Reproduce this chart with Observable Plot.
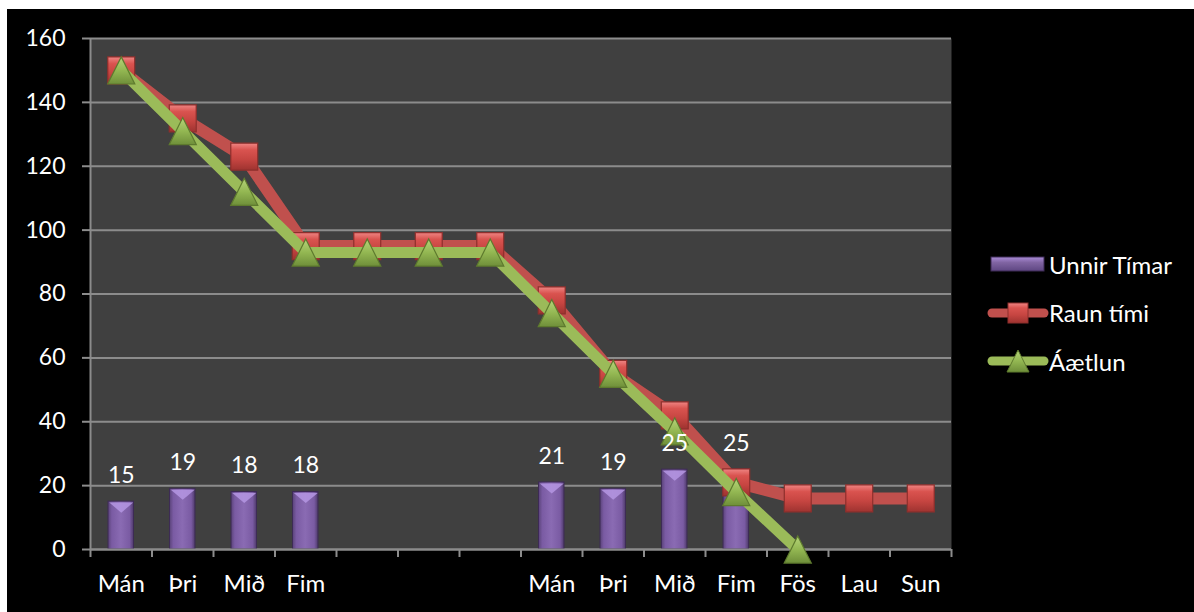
<!DOCTYPE html>
<html>
<head>
<meta charset="utf-8">
<script src="https://cdn.jsdelivr.net/npm/d3@7"></script>
<script src="https://cdn.jsdelivr.net/npm/@observablehq/plot@0.6"></script>
<style>
  html, body { margin: 0; padding: 0; background: #ffffff; }
  #wrap { position: absolute; left: 7px; top: 9px; width: 1187px; height: 603px; background: #000; overflow: hidden; }
  #wrap svg.chart { position: absolute; left: 0; top: 0; }
  .legend { position: absolute; left: 970px; top: 231px; font-family: Lato, "Open Sans", sans-serif; font-size: 24px; color: #fff; }
  .legend .item { display: flex; align-items: center; height: 48.5px; }
  .legend .item svg { margin-right: 0px; }
</style>
</head>
<body>
<div id="wrap"></div>
<script>
// Day labels along the bottom (two weeks, with an unlabeled gap)
const dayLabels = ["Mán", "Þri", "Mið", "Fim", "", "", "", "Mán", "Þri", "Mið", "Fim", "Fös", "Lau", "Sun"];

// Hours worked per day (null = no bar)
const unnirTimar = [15, 19, 18, 18, null, null, null, 21, 19, 25, 25, null, null, null];

// Actual remaining time
const raunTimi = [150, 135, 123, 95, 95, 95, 95, 78, 55, 42, 21, 16, 16, 16];

// Planned remaining time
const aaetlun = [150, 131, 112, 93, 93, 93, 93, 74, 55, 37, 18, 0, null, null];

const yTicks = [0, 20, 40, 60, 80, 100, 120, 140, 160];

const seriesNames = ["Unnir Tímar", "Raun tími", "Áætlun"];

const bars = unnirTimar.map((v, i) => ({i, v})).filter(d => d.v != null);
const raun = raunTimi.map((v, i) => ({i, v})).filter(d => d.v != null);
const plan = aaetlun.map((v, i) => ({i, v})).filter(d => d.v != null);

const gridColor = "#8c8c8c";
const font = "Lato, 'Open Sans', sans-serif";

// Triangle marker taller than an equilateral one, centred on its bounding box
const tallTriangle = {
  draw(context, size) {
    const w = Math.sqrt(size) * 1.5;
    const h = w;
    context.moveTo(0, -h / 2);
    context.lineTo(w / 2, h / 2);
    context.lineTo(-w / 2, h / 2);
    context.closePath();
  }
};

// Small inverted triangle used as the light cap on top of each bar
const barCap = {
  draw(context, size) {
    const w = Math.sqrt(size);
    context.moveTo(-w / 2, 0);
    context.lineTo(w / 2, 0);
    context.lineTo(0, w * 0.42);
    context.closePath();
  }
};

const chart = Plot.plot({
  width: 1187,
  height: 603,
  marginLeft: 83,
  marginRight: 243,
  marginTop: 29,
  marginBottom: 63,
  style: {background: "transparent", fontFamily: font, color: "#fff"},
  x: {type: "linear", domain: [0, dayLabels.length]},
  y: {domain: [0, 160]},
  marks: [
    Plot.frame({fill: "#404040", stroke: null}),
    Plot.ruleY(yTicks, {stroke: gridColor, strokeWidth: 2}),
    Plot.ruleX([0], {stroke: gridColor, strokeWidth: 2}),
    // hours worked
    Plot.rectY(bars, {
      x1: d => d.i, x2: d => d.i + 1, y1: 0, y2: "v",
      insetLeft: 18, insetRight: 18,
      fill: "url(#barGrad)", stroke: "#3d2b55", strokeWidth: 1
    }),
    Plot.dot(bars, {x: d => d.i + 0.5, y: "v", symbol: barCap, r: 13.5, fill: "#b596e3", fillOpacity: 0.85, dy: 1}),
    Plot.ruleY([0], {stroke: gridColor, strokeWidth: 2}),
    // actual
    Plot.line(raun, {x: d => d.i + 0.5, y: "v", stroke: "#c0504d", strokeWidth: 12, strokeLinejoin: "round", strokeLinecap: "butt"}),
    Plot.dot(raun, {x: d => d.i + 0.5, y: "v", symbol: "square", r: 15.2, fill: "url(#sqGrad)", stroke: "#8e2f2c", strokeWidth: 1.2}),
    // plan
    Plot.line(plan, {x: d => d.i + 0.5, y: "v", stroke: "#9bbb59", strokeWidth: 11, strokeLinejoin: "round", strokeLinecap: "butt"}),
    Plot.dot(plan, {x: d => d.i + 0.5, y: "v", symbol: tallTriangle, r: 10.2, fill: "url(#triGrad)", stroke: "#5e7a2e", strokeWidth: 1.2}),
    // value labels above bars
    Plot.text(bars, {x: d => d.i + 0.5, y: "v", text: d => String(d.v), dy: -26, fill: "#fff", fontSize: 23, fontFamily: font}),
    // axes
    Plot.axisY({ticks: yTicks, tickSize: 8, tickPadding: 17, stroke: gridColor, strokeWidth: 2, fill: "#fff", fontSize: 23, fontFamily: font, label: null}),
    Plot.axisX({ticks: d3.range(dayLabels.length + 1), tickSize: 8, stroke: gridColor, strokeWidth: 2, tickFormat: () => "", label: null}),
    Plot.axisX({ticks: d3.range(dayLabels.length).map(i => i + 0.5), tickSize: 0, tickPadding: 25, tickFormat: t => dayLabels[Math.floor(t)], fill: "#fff", fontSize: 24, fontFamily: font, label: null})
  ]
});
chart.classList.add("chart");

// gradients used by bars and markers
const defs = d3.select(chart).insert("defs", ":first-child");
const grad = (id, stops, horiz) => {
  const g = defs.append("linearGradient").attr("id", id)
    .attr("x1", 0).attr("y1", 0).attr("x2", horiz ? 1 : 0).attr("y2", horiz ? 0 : 1);
  stops.forEach(([o, c]) => g.append("stop").attr("offset", o).attr("stop-color", c));
};
grad("barGrad", [[0, "#5a4379"], [0.15, "#7a5ba3"], [0.5, "#8a6bb3"], [0.85, "#7a5ba3"], [1, "#4e3a6a"]], true);
grad("sqGrad", [[0, "#ef8583"], [0.25, "#d9534f"], [0.6, "#c64541"], [1, "#9e3330"]], false);
grad("triGrad", [[0, "#b6d47a"], [0.5, "#93b752"], [1, "#6f8f3a"]], false);

const wrap = document.getElementById("wrap");
wrap.appendChild(chart);

// legend
const legend = document.createElement("div");
legend.className = "legend";
const icons = [
  `<svg width="72" height="20"><defs><linearGradient id="lgBar" x1="0" y1="0" x2="0" y2="1"><stop offset="0" stop-color="#a98bd6"/><stop offset="0.4" stop-color="#8064a2"/><stop offset="1" stop-color="#5e4682"/></linearGradient></defs><rect x="14" y="3" width="53" height="14" fill="url(#lgBar)" stroke="#3d2b55"/></svg>`,
  `<svg width="72" height="24"><line x1="15" y1="12" x2="67" y2="12" stroke="#c0504d" stroke-width="9" stroke-linecap="round"/><rect x="31" y="2" width="20" height="20" fill="url(#sqGrad)" stroke="#8e2f2c"/></svg>`,
  `<svg width="72" height="24"><line x1="15" y1="12" x2="67" y2="12" stroke="#9bbb59" stroke-width="9" stroke-linecap="round"/><path d="M41,1 L52,23 L30,23 Z" fill="url(#triGrad)" stroke="#5e7a2e"/></svg>`
];
seriesNames.forEach((name, k) => {
  const item = document.createElement("div");
  item.className = "item";
  item.innerHTML = icons[k] + `<span>${name}</span>`;
  legend.appendChild(item);
});
wrap.appendChild(legend);
</script>
</body>
</html>
